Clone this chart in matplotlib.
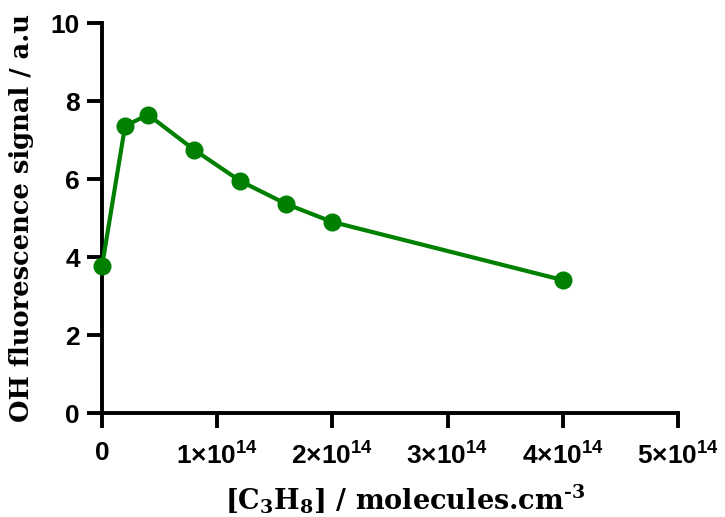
import numpy as np
import matplotlib.pyplot as plt

# propane concentration (molecules/cm3) and OH signal (a.u.)
conc = [0, 2e13, 4e13, 8e13, 1.2e14, 1.6e14, 2e14, 4e14]
signal = [3.76, 7.36, 7.65, 6.75, 5.95, 5.36, 4.9, 3.41]

x_ticks = [0, 1e14, 2e14, 3e14, 4e14, 5e14]
x_ticklabels = ['0', '$1×10^{14}$', '$2×10^{14}$', '$3×10^{14}$', '$4×10^{14}$', '$5×10^{14}$']
y_ticks = [0, 2, 4, 6, 8, 10]

plt.rcParams['mathtext.fontset'] = 'custom'
plt.rcParams['mathtext.rm'] = 'Liberation Sans:bold'
plt.rcParams['mathtext.sf'] = 'DejaVu Serif:bold'

fig = plt.figure(figsize=(7.25, 5.17), dpi=100)
ax = fig.add_axes([0.1407, 0.201, 0.7943, 0.7545])

ax.plot(conc, signal, color='#008000', lw=3, marker='o', ms=12, clip_on=False, zorder=3)

ax.set_xlim(0, 5e14)
ax.set_ylim(0, 10)
ax.set_xticks(x_ticks)
ax.set_xticklabels(x_ticklabels)
ax.set_yticks(y_ticks)

for lab in ax.get_xticklabels():
    lab.set_fontfamily('Liberation Sans')
    lab.set_fontweight('bold')
    lab.set_fontsize(19)
for lab in ax.get_yticklabels():
    lab.set_fontfamily('Liberation Sans')
    lab.set_fontweight('bold')
    lab.set_fontsize(19)

ax.spines['top'].set_visible(False)
ax.spines['right'].set_visible(False)
for s in ['left', 'bottom']:
    ax.spines[s].set_linewidth(2.8)
ax.tick_params(width=2.8, length=11, pad=5)
ax.tick_params(axis='x', pad=9)

ax.set_xlabel('[C$_\\mathsf{3}$H$_\\mathsf{8}$] / molecules.cm$^\\mathsf{\u20103}$',
              family='DejaVu Serif', fontweight='bold', fontsize=19.5, labelpad=10)
ax.xaxis.label.set_x(0.527)
ax.set_ylabel('OH fluorescence signal / a.u', family='DejaVu Serif',
              fontweight='bold', fontsize=18.5, labelpad=12)

fig.savefig('out.png', dpi=100)
